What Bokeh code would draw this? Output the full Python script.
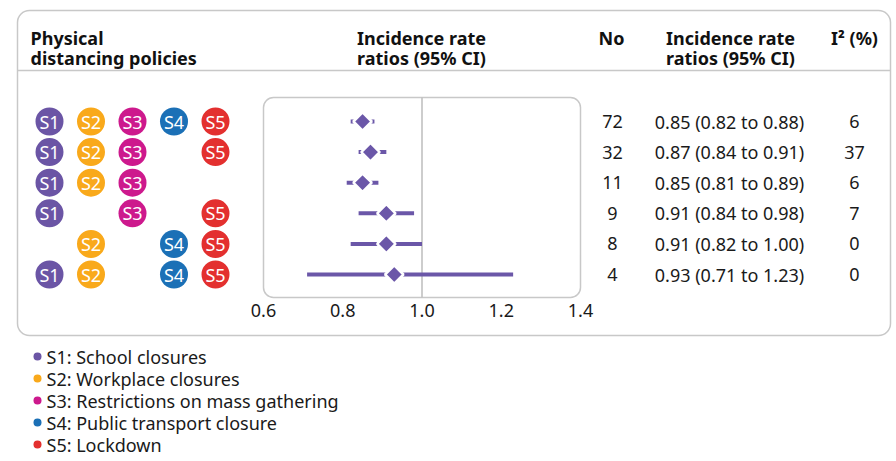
import math
from bokeh.plotting import figure
from bokeh.models import Range1d
from bokeh.embed import file_html
from bokeh.resources import INLINE
from bokeh.core.properties import value

# ---- data ----
policies = ["S1", "S2", "S3", "S4", "S5"]
policy_names = ["School closures", "Workplace closures", "Restrictions on mass gathering",
                "Public transport closure", "Lockdown"]
policy_colors = ["#6B55A5", "#F9A91B", "#CD198D", "#1B70B6", "#E3302F"]
combos = [
    [1, 1, 1, 1, 1],
    [1, 1, 1, 0, 1],
    [1, 1, 1, 0, 0],
    [1, 0, 1, 0, 1],
    [0, 1, 0, 1, 1],
    [1, 1, 0, 1, 1],
]
n_studies = [72, 32, 11, 9, 8, 4]
irr = [0.85, 0.87, 0.85, 0.91, 0.91, 0.93]
ci_low = [0.82, 0.84, 0.81, 0.84, 0.82, 0.71]
ci_high = [0.88, 0.91, 0.89, 0.98, 1.00, 1.23]
i2 = [6, 37, 6, 7, 0, 0]
ticks = [0.6, 0.8, 1.0, 1.2, 1.4]

FONT = value("Noto Sans")
TXT = "#1a1a1a"
GREY = "#C8C8C8"
PURPLE = "#6B57A8"

W, H = 894, 458
p = figure(width=W, height=H, x_range=Range1d(0, W), y_range=Range1d(H, 0),
           output_backend="svg", toolbar_location=None,
           x_axis_location=None, y_axis_location=None,
           min_border=0, outline_line_color=None)
p.xgrid.visible = False
p.ygrid.visible = False

# IRR scale: 0.6 -> x 263, 1.4 -> x 580 (px)
px0, px1 = 263.0, 580.0
sc = (px1 - px0) / (ticks[-1] - ticks[0])
p.extra_x_ranges = {"irr": Range1d(ticks[0] - px0 / sc, ticks[0] + (W - px0) / sc)}
# row scale: row 0 at y 121, step 30.6 (px from top)
ry0, rstep = 121.0, 30.6
p.extra_y_ranges = {"row": Range1d((H - ry0) / rstep, -ry0 / rstep)}
rows = list(range(len(irr)))

# outer rounded box and header rule
p.quad(left=17, right=890, top=10, bottom=335, fill_color=None, line_color=GREY,
       line_width=1.5, border_radius=12)
p.segment(x0=[17], x1=[890], y0=[70], y1=[70], line_color=GREY, line_width=1.5)

# headers
hdr = dict(text_font=FONT, text_font_size="18px", text_font_style="bold",
           text_color="#111111", text_baseline="alphabetic")
p.text(x=[30, 30], y=[37, 57], text=["Physical", "distancing policies"], text_align="left", **hdr)
p.text(x=[421, 421], y=[37, 57], text=["Incidence rate", "ratios (95% CI)"], text_align="center", **hdr)
p.text(x=[611], y=[37], text=["No"], text_align="center", **hdr)
p.text(x=[730, 730], y=[37, 57], text=["Incidence rate", "ratios (95% CI)"], text_align="center", **hdr)
p.text(x=[854], y=[37], text=["I² (%)"], text_align="center", **hdr)

# policy circles
cx, cy, ct, cc = [], [], [], []
for r, combo in enumerate(combos):
    for c, on in enumerate(combo):
        if on:
            cx.append(49 + 41.5 * c)
            cy.append(r)
            ct.append(policies[c])
            cc.append(policy_colors[c])
p.scatter(x=cx, y=cy, size=28, fill_color=cc, line_color=None, y_range_name="row")
p.text(x=cx, y=cy, text=ct, text_color="white", text_font=FONT, text_font_size="18px",
       text_align="center", text_baseline="middle", y_range_name="row")

# forest panel
p.quad(left=ticks[0], right=ticks[-1], top=97, bottom=297, fill_color=None,
       line_color=GREY, line_width=1.5, border_radius=10, x_range_name="irr")
p.segment(x0=[1.0], x1=[1.0], y0=[97], y1=[297], line_color="#BDBDBD", line_width=1.5,
          x_range_name="irr")
p.segment(x0=ci_low, x1=ci_high, y0=rows, y1=rows, line_color=PURPLE, line_width=4,
          x_range_name="irr", y_range_name="row")
p.scatter(x=irr, y=rows, marker="square", angle=math.pi / 4, size=13, fill_color=PURPLE,
          line_color="white", line_width=2.5, x_range_name="irr", y_range_name="row")
p.text(x=ticks, y=[310] * len(ticks), text=[f"{t:.1f}" for t in ticks], text_color=TXT,
       text_font=FONT, text_font_size="18px", text_align="center", text_baseline="middle",
       x_range_name="irr")

# table
body = dict(text_font=FONT, text_font_size="18px", text_color=TXT, text_baseline="middle",
            text_align="center", y_range_name="row")
p.text(x=[612] * len(rows), y=rows, text=[str(n) for n in n_studies], **body)
p.text(x=[729] * len(rows), y=rows,
       text=[f"{m:.2f} ({l:.2f} to {h:.2f})" for m, l, h in zip(irr, ci_low, ci_high)], **body)
p.text(x=[854] * len(rows), y=rows, text=[str(v) for v in i2], **body)

# legend
ly = [356 + 22 * k for k in range(len(policies))]
p.scatter(x=[37] * len(policies), y=ly, size=8, fill_color=policy_colors, line_color=None)
p.text(x=[46] * len(policies), y=ly,
       text=[f"{s}: {n}" for s, n in zip(policies, policy_names)], text_color=TXT,
       text_font=FONT, text_font_size="18px", text_align="left", text_baseline="middle")

open("out.html", "w").write(file_html(p, INLINE))
